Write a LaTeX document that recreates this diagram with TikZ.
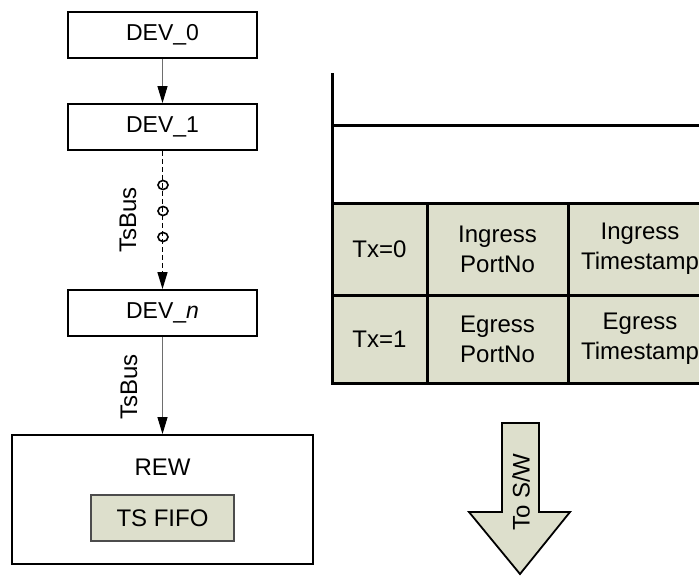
\documentclass[tikz,border=0pt]{standalone}
\usepackage{fontspec}
\setmainfont{Liberation Sans}
\usetikzlibrary{arrows.meta,positioning}
\definecolor{cellgreen}{RGB}{221,223,204}
\definecolor{busgray}{RGB}{110,110,110}

\tikzset{
  devbox/.style={draw, line width=1.8pt, minimum width=189pt, minimum height=46pt, inner sep=0pt, font=\fontsize{23}{27}\selectfont},
  cellbox/.style={draw, fill=cellgreen, line width=3pt, inner sep=0pt, outer sep=0pt, anchor=north west, align=center, font=\fontsize{24}{30}\selectfont},
  busarrow/.style={draw=busgray, line width=1pt, -{Triangle[length=17pt,width=10pt,color=black,fill=black]}},
  buslabel/.style={rotate=90, font=\fontsize{24}{28}\selectfont},
  busring/.style={ellipse, draw, line width=1.6pt, inner sep=0pt, minimum width=10pt, minimum height=9pt},
}
\usetikzlibrary{shapes.geometric}

\begin{document}
\begin{tikzpicture}[x=1pt, y=-1pt]
\path[use as bounding box, clip] (0,0) rectangle (699,576);

\node[devbox] (dev0) at (162.5,35) {DEV\_0};
\node[devbox] (dev1) at (162.5,127) {DEV\_1};
\node[devbox] (devn) at (162.5,313) {DEV\_\textit{n}};

\node[draw, line width=1.8pt, minimum width=301pt, minimum height=129pt, inner sep=0pt] (rew) at (162.5,499.5) {};
\node[font=\fontsize{24}{28}\selectfont] (rewlabel) at (162.5,467) {REW};
\node[draw=black!70, fill=cellgreen, line width=1.2pt, minimum width=143pt, minimum height=46pt, inner sep=0pt, font=\fontsize{24}{28}\selectfont] (tsfifo) at (162.5,518) {TS FIFO};

\draw[busarrow] (dev0) -- (dev1);
\draw[busarrow, draw=black, line width=1.3pt, dash pattern=on 5pt off 3pt] (dev1) -- (devn);
\node[busring] (ring1) at (163,185) {};
\node[busring] (ring2) at (163,211) {};
\node[busring] (ring3) at (163,237) {};
\node[buslabel] (bus1) at (128,220) {TsBus};
\draw[busarrow] (devn) -- (rew);
\node[buslabel] (bus2) at (129,387) {TsBus};

\draw[line width=3pt] (332,73) -- (332,203);
\draw[line width=3pt] (332,125) -- (712,125);
\node[cellbox, minimum width=95pt, minimum height=92pt] (tx0) at (332,203) {Tx=0};
\node[cellbox, minimum width=141pt, minimum height=92pt] (inport) at (427,203) {Ingress\\PortNo};
\node[cellbox, minimum width=144pt, minimum height=92pt] (intime) at (568,203) {Ingress\\Timestamp};
\node[cellbox, minimum width=95pt, minimum height=88pt] (tx1) at (332,295) {Tx=1};
\node[cellbox, minimum width=141pt, minimum height=88pt] (egport) at (427,295) {Egress\\PortNo};
\node[cellbox, minimum width=144pt, minimum height=88pt] (egtime) at (568,295) {Egress\\Timestamp};

\draw[line width=1.8pt, fill=cellgreen, line join=miter] (502,423) -- (539,423) -- (539,512) -- (570,512) -- (520,574) -- (469,512) -- (502,512) -- cycle;
\node[rotate=90, font=\fontsize{24}{28}\selectfont] (tosw) at (521,492) {To S/W};
\end{tikzpicture}
\end{document}
